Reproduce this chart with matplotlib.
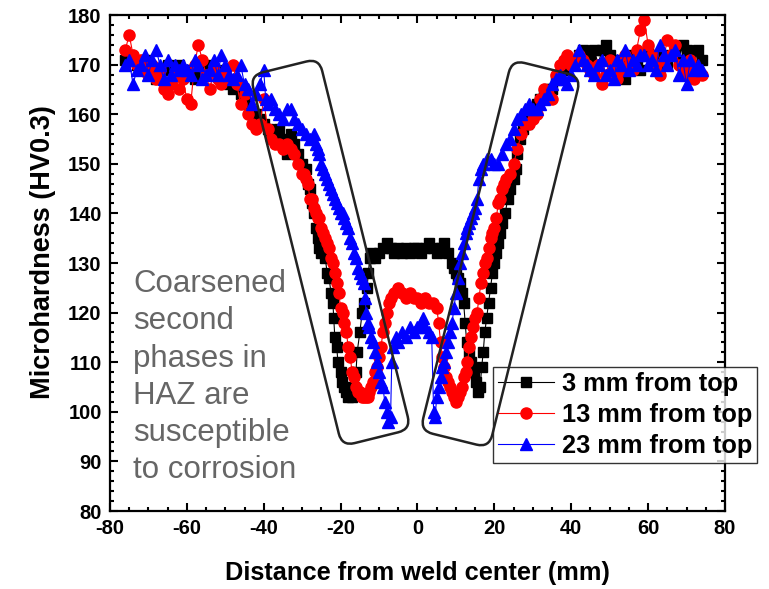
import matplotlib
matplotlib.use("Agg")
import matplotlib.pyplot as plt
from matplotlib.patches import FancyBboxPatch
from matplotlib.transforms import Affine2D
from matplotlib.ticker import MultipleLocator

plt.rcParams['font.family'] = ['Liberation Sans', 'DejaVu Sans']
plt.rcParams['font.weight'] = 'bold'
plt.rcParams['axes.unicode_minus'] = False

# ---- datos: 3 mm desde arriba (cuadrados negros)
x_3mm = [-76, -75, -74, -73, -72, -71, -70, -69, -68, -67, -66, -65, -64, -63, -62, -61,
         -60, -59, -58, -57, -56, -55, -54, -53, -52, -51, -50, -49, -48, -47, -46, -45,
         -44, -43, -42, -41, -40, -39, -38, -37, -36, -35, -34, -33, -32, -31, -30,
         -29, -28.5, -28, -27.5, -27, -26.5, -26, -25.5, -25, -24, -23.5, -23, -22.5,
         -22, -21.8, -21.5, -21, -20.7, -20, -19.7, -19, -18.5, -18, -17.5, -17, -16.5,
         -16, -15.7, -15, -14.4, -13.8, -13.1, -12.8, -12.4, -12, -11, -10, -9, -8, -7,
         -6, -5, -4, -3, -2, -1, 0, 1, 2, 3, 4, 5, 6, 7, 8, 9, 9.5, 10, 10.5, 11, 11.5,
         12, 12.4, 12.8, 13.3, 14, 14.8, 15.3, 15.8, 16.3, 16.7, 17.1, 17.5, 18, 18.5,
         19, 19.5, 20, 20.5, 21, 21.5, 22, 22.8, 23.5, 24, 25, 25.5, 26, 26.7, 27.5,
         28.5, 29.5, 31, 32, 33, 34, 35, 36, 37, 38, 39, 40, 41,
         42, 43, 44, 45, 46, 47, 48, 49, 50, 51, 52, 53, 54, 55, 56, 57, 58, 59, 60,
         61, 62, 63, 64, 65, 66, 67, 68, 69, 70, 71, 72, 73, 74]
y_3mm = [171, 172, 171, 170, 169, 171, 170, 169, 167, 168, 169, 170, 169, 168, 170, 169,
         168, 169, 167, 168, 169, 168, 170, 169, 168, 167, 169, 166, 165, 166, 164, 163,
         162, 160, 160, 159, 158, 157, 156, 156, 157, 155, 152, 156, 154, 152, 150,
         149, 146, 145, 142, 140, 137, 135, 133, 132, 131, 128, 127, 124,
         122, 119, 115, 113, 110, 108, 106, 105, 104, 103, 104, 103, 105,
         108, 112, 116, 120, 122, 125, 128, 131, 132, 131, 132, 133, 134, 133,
         132, 133, 132, 133, 132, 133, 133, 132, 133, 134, 133, 132, 133, 134, 132, 130, 129, 128, 127, 126, 124,
         122, 118, 114, 112, 110, 108, 106, 104, 105, 109, 112, 116, 119, 122,
         125, 128, 130, 132, 134, 136, 138, 140, 143, 145, 147, 149, 152, 155, 157,
         158, 160, 162, 163, 164, 165, 165, 167, 168, 169, 170, 170, 171,
         172, 173, 171, 172, 173, 170, 173, 174, 172, 171, 170, 169, 167, 170, 172, 171, 169, 172, 173,
         171, 170, 172, 171, 170, 172, 173, 171, 174, 173, 172, 170, 173, 171]

# ---- 13 mm desde arriba (círculos rojos)
x_13mm = [-76, -75, -74, -73, -72, -71, -70, -69, -68, -67, -66, -65, -64, -63, -62, -61,
          -60, -59, -58, -57, -56, -55, -54, -53, -52, -51, -50, -49, -48, -47, -46, -45,
          -44, -43, -42, -41, -40, -39, -38, -37, -36, -35, -34, -33, -32, -31, -30,
          -29.5, -29, -28.5, -28, -27.5, -27, -26.5, -26, -25.5, -25, -24.5, -24, -23.5,
          -23, -22.5, -22, -21.5, -21, -20.5, -20, -19.5, -19, -18.5, -18, -17.5, -17,
          -16.5, -16, -15.5, -15, -14.5, -14, -13.5, -13, -12.5, -12, -11.5, -11, -10.5,
          -10, -9.5, -9, -8.5, -8, -7.5, -7, -6, -5, -4, -3, -2, -1, 0, 1, 2, 3, 4, 5,
          5.5, 6, 6.5, 7, 7.5, 8, 8.5, 9, 9.5, 10, 10.5, 11, 11.5, 12, 12.5, 13, 13.5,
          14, 14.5, 15, 15.5, 16, 16.5, 17, 17.5, 18, 18.5, 19, 19.5, 20, 20.5, 21,
          21.5, 22, 22.5, 23, 24, 25, 26, 27, 28, 29, 30, 31, 32, 33, 34, 35, 36, 37,
          38, 39, 40, 41,
          42, 43, 44, 45, 46, 47, 48, 49, 50, 51, 52, 53, 54, 55, 56, 57, 58, 59, 60,
          61, 62, 63, 64, 65, 66, 67, 68, 69, 70, 71, 72, 73, 74]
y_13mm = [173, 176, 172, 170, 171, 169, 168, 170, 167, 169, 165, 164, 166, 168, 165, 167,
          163, 162, 170, 174, 171, 168, 165, 169, 167, 166, 168, 167, 170, 166, 162, 164,
          160, 158, 157, 158, 163, 157, 155, 154, 154, 153, 154, 153, 152, 150, 148,
          148, 147, 146, 143, 143, 141, 140, 139, 139, 137, 136, 135, 134,
          133, 131, 130, 128, 126, 124, 121, 120, 118, 116, 113, 111, 108,
          107, 105, 104, 104, 103, 103, 103, 103, 104, 105, 106, 108, 109,
          111, 113, 116, 118, 120, 122, 123, 124, 125, 124, 123, 124, 123, 123, 122, 123, 122, 122, 121,
          118, 114, 111, 109, 107, 106, 105, 104, 103, 102, 103, 104, 105, 107, 108, 110, 113,
          115, 117, 119, 120, 123, 126, 128, 130, 131, 133, 135, 136, 137, 139, 142,
          143, 145, 146, 147, 148, 150, 153, 156, 158, 158, 159, 160, 163, 165, 164, 163, 168, 170,
          171, 172, 170, 171,
          172, 171, 170, 169, 168, 170, 166, 168, 171, 170, 167, 169, 172, 170, 169, 173, 177, 179, 174,
          172, 170, 168, 171, 175, 172, 174, 170, 168, 169, 171, 167, 169, 168]

# ---- 23 mm desde arriba (triángulos azules)
x_23mm = [-76, -75, -74, -73, -72, -71, -70, -69, -68, -67, -66, -65, -64, -63, -62, -61,
          -60, -59, -58, -57, -56, -55, -54, -53, -52, -51, -50, -49, -48, -47, -46, -45,
          -44, -43, -42, -41, -40, -39.5, -39, -38, -37, -36, -35, -34, -33, -32, -31,
          -30, -29, -28, -27, -26.5, -26, -25.5, -25, -24.5, -24, -23.5, -23, -22.5,
          -22, -21.5, -21, -20.5, -20, -19.5, -19, -18.5, -18, -17.5, -17, -16.5, -16,
          -15.5, -15, -14.5, -14, -13.7, -13.3, -13, -12.5, -12, -11.5, -11, -10.5, -10,
          -9.5, -9, -8.5, -8, -7.7, -7, -6.7, -6.3, -5.5, -5, -4, -3, -2, -1, 0, 1, 1.5,
          2, 3, 3.7, 4.2, 4.6, 5, 5.5, 6, 6.5, 7, 7.5, 8, 8.5, 9, 9.5, 10, 10.5, 11,
          11.5, 12, 12.5, 13, 13.5, 14, 14.5, 15, 15.5, 16, 16.5, 17, 18, 19, 20, 21,
          22, 23, 24, 25, 26, 27, 28, 29, 30, 31, 32, 33, 34, 35, 36, 37, 38, 39, 40, 41,
          42, 43, 44, 45, 46, 47, 48, 49, 50, 51, 52, 53, 54, 55, 56, 57, 58, 59, 60,
          61, 62, 63, 64, 65, 66, 67, 68, 69, 70, 71, 72, 73, 74]
y_23mm = [170, 171, 166, 169, 170, 172, 168, 171, 173, 170, 167, 171, 168, 170, 169, 170,
          169, 168, 171, 170, 167, 168, 169, 171, 168, 172, 170, 168, 167, 168, 170, 166,
          165, 162, 164, 166, 169, 163, 162, 163, 161, 160, 159, 161, 161, 159, 158,
          157, 156, 155, 156, 154, 153, 152, 150, 149, 148, 147, 146, 145,
          144, 143, 142, 141, 140, 140, 139, 138, 137, 135, 134, 132, 131,
          129, 128, 127, 126, 123, 120, 118, 117, 115, 114, 112, 110, 108,
          106, 105, 102, 100, 98, 99, 110, 113, 115, 114, 116, 115, 117, 116, 117, 118, 119,
          117, 116, 115, 100, 99, 103, 105, 107, 109, 110, 112, 114, 116, 118, 121, 124, 127, 130,
          132, 134, 136, 137, 138, 139, 140, 141, 143, 147, 149, 150, 151, 151, 150, 150,
          152, 154, 155, 157, 159, 160, 161, 162, 161, 161, 162, 163, 164, 166, 167, 168, 167, 166, 168, 170,
          173, 171, 170, 169, 168, 170, 171, 168, 169, 167, 171, 170, 173, 169, 171, 170, 172, 172, 170,
          171, 169, 174, 172, 170, 172, 173, 168, 171, 166, 171, 169, 170, 169]

labels = ['3 mm from top', '13 mm from top', '23 mm from top']

fig = plt.figure(figsize=(7.69, 5.89), dpi=100)
ax = fig.add_axes([0.143, 0.1324, 0.7998, 0.8421])

ax.plot(x_3mm, y_3mm, '-s', color='black', lw=0.8, ms=6.5, mec='black', label=labels[0])
ax.plot(x_13mm, y_13mm, '-o', color='red', lw=0.8, ms=8, mec='red', label=labels[1])
ax.plot(x_23mm, y_23mm, '-^', color='blue', lw=0.8, ms=8.5, mec='blue', label=labels[2])

ax.set_xlim(-80, 80)
ax.set_ylim(80, 180)
ax.xaxis.set_major_locator(MultipleLocator(20))
ax.xaxis.set_minor_locator(MultipleLocator(5))
ax.yaxis.set_major_locator(MultipleLocator(10))
ax.yaxis.set_minor_locator(MultipleLocator(2))
ax.tick_params(which='both', direction='in', top=True, right=True, width=1.5)
ax.tick_params(which='major', length=6, labelsize=14.5, pad=6)
ax.tick_params(which='minor', length=3)
for s in ax.spines.values():
    s.set_linewidth(1.6)

ax.set_xlabel('Distance from weld center (mm)', fontsize=18.3, fontweight='bold', labelpad=16)
ax.set_ylabel('Microhardness (HV0.3)', fontsize=19.5, fontweight='bold')
ax.yaxis.set_label_coords(-0.088, 0.522)

# texto gris de la anotación
ax.text(-74, 107, 'Coarsened\nsecond\nphases in\nHAZ are\nsusceptible\nto corrosion',
        fontsize=22.5, color='#666666', fontweight='normal', ha='left', va='center',
        linespacing=1.31)

# cajas redondeadas inclinadas (en pulgadas de la figura)
H = 5.89
for cx, cy, ang in [(330.5, 252.3, 13.9), (500.5, 253.8, -13.9)]:
    box = FancyBboxPatch((-0.355, -1.91), 0.71, 3.82,
                         boxstyle="round,pad=0,rounding_size=0.13",
                         fill=False, ec='#222222', lw=1.8, zorder=5,
                         transform=Affine2D().rotate_deg(ang).translate(cx / 100, H - cy / 100)
                         + fig.dpi_scale_trans)
    fig.add_artist(box)

leg = ax.legend(loc='upper left', bbox_to_anchor=(493 / 769, 1 - 367 / 589),
                bbox_transform=fig.transFigure, borderaxespad=0,
                prop={'weight': 'bold', 'size': 18.3}, frameon=True, fancybox=False,
                edgecolor='black', handlelength=2.2, handletextpad=0.3,
                borderpad=0.2, labelspacing=0.28)
leg.get_frame().set_linewidth(1.0)
leg.set_zorder(6)

fig.savefig('out.png', dpi=100)
